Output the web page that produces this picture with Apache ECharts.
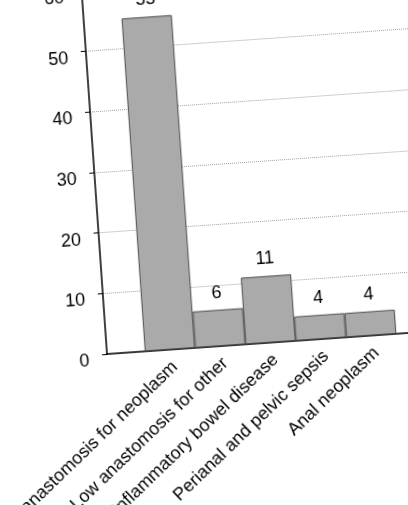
<!DOCTYPE html>
<html>
<head>
<meta charset="utf-8">
<script src="https://cdn.jsdelivr.net/npm/echarts@6/dist/echarts.min.js"></script>
<style>
html, body {
  margin: 0;
  padding: 0;
  width: 408px;
  height: 505px;
  overflow: hidden;
  background: #fff;
}
/* the chart is seen slightly tilted, so the whole canvas is turned about the axis origin */
#chart {
  position: absolute;
  left: -92.7px;
  top: -146px;
  width: 700px;
  height: 800px;
  transform-origin: 200px 500px;
  transform: rotate(-4deg);
}
</style>
</head>
<body>
<div id="chart"></div>
<script>
// data
const categories = [
  "Low anastomosis for neoplasm",
  "Low anastomosis for other",
  "Inflammatory bowel disease",
  "Perianal and pelvic sepsis",
  "Anal neoplasm",
];
const counts = [55, 6, 11, 4, 4];
const yMin = 0;
const yMax = 60;
const yStep = 10;

const font = "Liberation Sans, Arial, Helvetica, sans-serif";
const myChart = echarts.init(document.getElementById("chart"));

const option = {
  animation: false,
  backgroundColor: "#fff",
  grid: {
    left: 200,
    top: 136,
    width: 328,
    height: 364,
    outerBoundsMode: "none",
  },
  xAxis: {
    type: "value",
    min: -1.25,
    max: categories.length + 0.25,
    axisLine: { show: true, lineStyle: { color: "#000", width: 1.5 } },
    axisTick: { show: false },
    splitLine: { show: false },
    axisLabel: {
      // labels sit a little right of the bar centres in the picture
      customValues: categories.map((c, i) => i + 0.08),
      formatter: (v) => categories[Math.round(v)] || "",
      rotate: 40,
      margin: 15,
      fontSize: 18,
      color: "#000",
      fontFamily: font,
    },
  },
  yAxis: {
    type: "value",
    min: yMin,
    max: yMax,
    interval: yStep,
    axisLine: { show: true, onZero: false, lineStyle: { color: "#000", width: 1.5 } },
    axisTick: { show: true, length: 5, lineStyle: { color: "#000", width: 1 } },
    axisLabel: {
      margin: 18,
      fontSize: 18,
      color: "#000",
      fontFamily: font,
      // numbers hang a bit below their ticks
      verticalAlign: "top",
      lineHeight: 12,
    },
    splitLine: {
      show: true,
      lineStyle: { type: "dotted", color: "#a0a0a0", width: 1 },
    },
  },
  series: [
    {
      type: "bar",
      data: counts.map((v, i) => [i, v]),
      barWidth: "100%",
      itemStyle: { color: "#aaaaaa", borderColor: "#4a4a4a", borderWidth: 1 },
      label: {
        show: true,
        position: "top",
        distance: 8,
        fontSize: 18,
        color: "#000",
        fontFamily: font,
      },
    },
  ],
};

myChart.setOption(option);
</script>
</body>
</html>
